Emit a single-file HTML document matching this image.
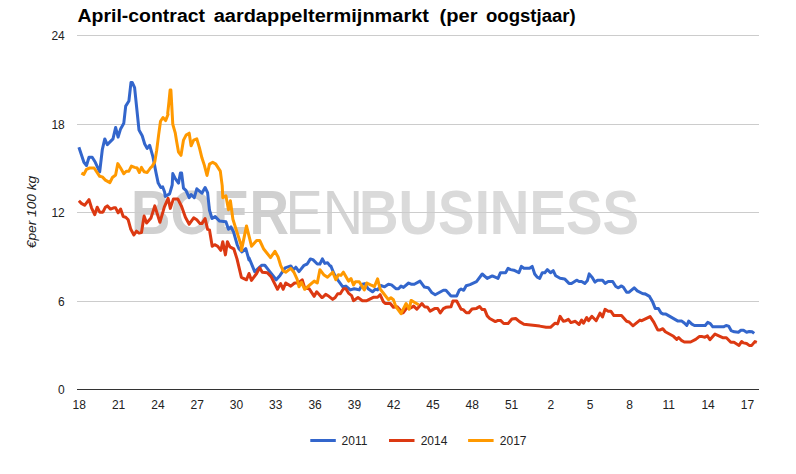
<!DOCTYPE html>
<html><head><meta charset="utf-8"><title>chart</title>
<style>
html,body{margin:0;padding:0;background:#fff;}
body{width:796px;height:474px;overflow:hidden;position:relative;font-family:"Liberation Sans",sans-serif;}
svg{position:absolute;left:0;top:0;}
svg text{font-family:"Liberation Sans",sans-serif;}
</style></head><body>
<svg width="796" height="474" viewBox="0 0 796 474">
<rect width="796" height="474" fill="#fff"/>
<g id="wm" font-size="63.5">
<text x="131" y="233.8" font-weight="bold" fill="#d0d0d0" textLength="158" lengthAdjust="spacingAndGlyphs">BOER</text>
<text x="285.5" y="233.8" fill="#d4d4d4" textLength="77.5" lengthAdjust="spacingAndGlyphs">EN</text>
<text x="359" y="233.8" font-weight="bold" fill="#dadada" textLength="280" lengthAdjust="spacingAndGlyphs">BUSINESS</text>
</g>
<g id="grid"><rect x="77" y="35" width="682" height="1" fill="#ccc"/><rect x="77" y="124" width="682" height="1" fill="#ccc"/><rect x="77" y="212" width="682" height="1" fill="#ccc"/><rect x="77" y="301" width="682" height="1" fill="#ccc"/><rect x="77" y="389" width="682" height="1" fill="#333"/></g>
<g id="title" font-weight="bold" font-size="18" fill="#000">
<text x="77.5" y="21.8" textLength="127.5" lengthAdjust="spacingAndGlyphs">April-contract</text>
<text x="213.7" y="21.8" textLength="215.3" lengthAdjust="spacingAndGlyphs">aardappeltermijnmarkt</text>
<text x="439.6" y="21.8" textLength="38" lengthAdjust="spacingAndGlyphs">(per</text>
<text x="486" y="21.8" textLength="89.7" lengthAdjust="spacingAndGlyphs">oogstjaar)</text>
</g>
<g id="xl" font-size="12" fill="#222"><text x="79.3" y="409.2" text-anchor="middle">18</text><text x="118.6" y="409.2" text-anchor="middle">21</text><text x="157.9" y="409.2" text-anchor="middle">24</text><text x="197.2" y="409.2" text-anchor="middle">27</text><text x="236.5" y="409.2" text-anchor="middle">30</text><text x="275.8" y="409.2" text-anchor="middle">33</text><text x="315.1" y="409.2" text-anchor="middle">36</text><text x="354.4" y="409.2" text-anchor="middle">39</text><text x="393.7" y="409.2" text-anchor="middle">42</text><text x="433.0" y="409.2" text-anchor="middle">45</text><text x="472.3" y="409.2" text-anchor="middle">48</text><text x="511.6" y="409.2" text-anchor="middle">51</text><text x="550.9" y="409.2" text-anchor="middle">2</text><text x="590.2" y="409.2" text-anchor="middle">5</text><text x="629.5" y="409.2" text-anchor="middle">8</text><text x="668.8" y="409.2" text-anchor="middle">11</text><text x="708.1" y="409.2" text-anchor="middle">14</text><text x="747.4" y="409.2" text-anchor="middle">17</text></g>
<g id="yl" font-size="12" fill="#222"><text x="64.8" y="40.2" text-anchor="end">24</text><text x="64.8" y="129.2" text-anchor="end">18</text><text x="64.8" y="217.2" text-anchor="end">12</text><text x="64.8" y="306.2" text-anchor="end">6</text><text x="64.8" y="394.2" text-anchor="end">0</text></g>
<text transform="translate(36.4,212) rotate(-90)" text-anchor="middle" font-size="12" font-style="italic" fill="#222" textLength="72.5" lengthAdjust="spacingAndGlyphs">€per 100 kg</text>
<g fill="none" stroke-width="3" stroke-linejoin="round" stroke-linecap="butt">
<path stroke="#3366cc" d="M78.9,147.2 L83.9,162.3 L86.5,165.5 L89,157.3 L92.2,157.3 L95.3,162.3 L99.7,171.8 L102.3,149.7 L104.8,138.9 L107.3,144.6 L113,138.9 L115.6,127.5 L118.1,137.1 L120.6,128.9 L123.8,123.2 L125.7,106.1 L128.9,101 L131,82.4 L132.2,82.4 L134.6,87.7 L139,130 L139.4,130.7 L142.2,135.8 L144.7,144 L147.2,148.4 L149.7,145.3 L152.9,156.6 L156.1,173.1 L158.2,183.1 L160.8,187.5 L162.7,186.9 L164.6,192 L165.2,196.4 L169.6,193.9 L172.2,185 L172.8,173.6 L175.3,178.7 L178.5,183.1 L180.4,173 L181.6,173 L183.5,188.2 L186.1,190.7 L186.7,192 L189.2,197.7 L191.1,194.5 L194.3,197.7 L196.8,188.8 L201.9,193.2 L205.1,187.5 L207.6,192.6 L209.5,210.3 L212,218.5 L215.2,216.6 L219.6,221.1 L225.9,221.7 L228.5,229.3 L231,226.8 L233.5,231.8 L237.3,245 L238.9,248.7 L242,251.9 L245.8,248.7 L249,260 L249,257.7 L254.7,271.6 L261.6,265.3 L264.8,265.3 L269.2,270.9 L276.2,279.8 L280,275.4 L285.1,267.8 L290.8,265.9 L293.3,269.7 L295.8,267.2 L299,271.6 L304.1,265.3 L307.2,264 L310.4,258.9 L312.9,259.6 L317.3,264 L319.9,264 L322.4,258.9 L324.9,263.4 L327.5,262.7 L330,265.9 L330.8,265.9 L333.9,273.5 L337.7,279.8 L342.8,286.8 L345.9,286.1 L350.4,289.9 L354.2,288.7 L356.7,289.3 L359.2,289.9 L362.4,284.2 L364.9,283.6 L368.1,288.7 L372.5,291.8 L375.1,289.3 L377.6,289.9 L380.8,285.5 L384.6,286.8 L388.4,284.2 L391.5,284.9 L395.9,288.7 L398.5,288.7 L401,286.1 L403.5,287.4 L408.6,283 L411.1,284.2 L414.3,284.2 L420,281.1 L424.4,287.1 L428.2,287.7 L432,292.8 L435.2,294.7 L443.4,290.3 L445.9,290.3 L451,295.9 L456.7,295.9 L459.2,290.3 L461.1,289 L463.7,290.3 L466.2,285.8 L470,284.6 L476.5,281.6 L482.2,274 L487.2,278.4 L492.3,275.9 L498,278.4 L500.5,272.7 L505.6,272.7 L508.1,268.3 L510.6,269.6 L513.8,270.2 L518.9,272.7 L521.4,266.4 L523.9,268.3 L529.6,268.3 L532.2,266.4 L534.7,274 L537.2,277.2 L539.7,278.4 L542.3,272.7 L544.8,272.7 L547.3,269.6 L550.5,272.7 L553.2,270.7 L555.7,275.8 L560.1,278.3 L564.6,278.9 L569,283.4 L571.5,283.4 L576.6,280.2 L579.1,281.5 L581.6,281.5 L584.8,283.4 L587.3,280.8 L589.2,273.9 L592.4,277.7 L594.9,282.1 L597.5,280.2 L602.5,280.2 L605.1,283.4 L608.2,281.5 L612.7,281.5 L615.8,286.5 L618.4,287.8 L621.5,285.9 L623.4,287.2 L626.6,292.2 L629.1,292.2 L634.2,287.8 L637.3,290.9 L642.4,293.5 L644.9,294.1 L645.1,293.9 L649.5,296.4 L652.7,302.1 L655.2,308.4 L658.4,308.4 L660.9,312.8 L663.4,314.1 L665.9,314.1 L678,321.1 L681.8,321.1 L684.3,323 L686.8,325.5 L688.7,321.1 L691.9,324.2 L694.4,325.5 L705.2,325.5 L707.7,322.3 L710.3,323.6 L712.8,326.8 L723.5,326.8 L726.1,325.5 L728.6,326.1 L731.1,330.6 L734.3,331.8 L738.4,332.2 L740.9,330.3 L743.5,330.3 L746.6,332.2 L749.2,331.5 L752.3,331.8 L754.2,333.4"/>
<path stroke="#dc3912" d="M78.9,200.8 L81.4,203.4 L84.6,205.3 L89,199.6 L91.5,207.8 L94.7,214.7 L97.2,207.2 L99.7,212.2 L102.9,212.2 L105.4,207.2 L107.3,205.9 L110.5,209.1 L113.7,207.8 L115.6,207.8 L118.1,212.8 L120.6,209.1 L123.2,216.6 L125.7,217.3 L128.2,219.8 L130.8,229.3 L133.9,235 L136.5,231.2 L139,233.1 L141.5,232.5 L144.1,216 L146.6,223 L151,217.9 L154.8,205.9 L159.9,222.3 L164.3,207.2 L168.1,198.3 L170.3,208.4 L173.4,198.9 L177.8,198.9 L181.6,206.5 L185.4,217.3 L189.2,224.2 L193.7,217.9 L196.8,219.8 L200,223.6 L201.9,223.6 L205.1,218.5 L207.6,229.3 L209.5,229.9 L212.2,246.3 L214.7,244.7 L217.8,246.3 L220.8,250.3 L222.8,241.7 L225.4,254.9 L227.4,241.7 L229.9,246.8 L233.8,248.8 L237,258.9 L241.4,277.3 L246.5,279.8 L249,273.5 L251.5,280.4 L256.6,273.5 L259.7,267.8 L262.3,272.2 L267.3,272.8 L271.1,276.6 L277.5,289.3 L280.6,283.6 L283.2,289.3 L285.7,283 L290.8,286.1 L294.6,283 L298.4,283 L302.2,279.8 L304.7,288 L309.1,288.7 L314.2,296.3 L316.7,291.8 L321.8,297.5 L322.5,297.5 L325.7,294.4 L328.9,296.3 L332.7,299.4 L335.2,297.5 L337.7,293.7 L340.3,293.7 L343.4,288.7 L345.9,288.7 L348.5,293.1 L351.6,295.6 L353.5,300.7 L358,297.5 L362.4,300.7 L366.8,300.7 L373.8,297.2 L377.6,297.2 L380.1,294.7 L383.3,301.6 L385.2,303.5 L390.3,303.5 L393.4,307.3 L397.2,306.7 L402.9,313 L406.7,308 L410.5,308 L413.7,306.1 L416.8,309.2 L421.9,303.5 L424.4,306.7 L427.6,307.3 L430.1,311.1 L434.6,308.6 L437.7,308.6 L440.3,313 L443.4,308.6 L445.9,307.3 L451,306.7 L452.9,301 L456.7,301 L461.1,309.2 L463.2,309.6 L466.3,312.8 L468.9,312.8 L472,309 L476.5,308.4 L479.6,306.5 L482.2,309.6 L484.7,309.6 L487.2,315.9 L489.7,318.5 L495.4,321.6 L498,320.4 L500.5,320.4 L503.7,323.5 L508.1,323.5 L511.9,319.1 L515.7,318.5 L519.5,321.6 L523.9,324.2 L539.7,326.1 L546.1,327.3 L550.5,327.3 L555.1,323.2 L557.6,323.9 L560.1,316.3 L563.3,321.3 L565.8,320.7 L568.4,319.4 L570.9,322.6 L575.3,321.3 L579.1,324.5 L581.6,320.1 L583.5,323.2 L586.7,317.5 L588.6,320.7 L591.8,316.3 L596.2,320.7 L600,313.1 L602.5,316.9 L605.1,309.3 L608.2,311.2 L610.8,311.2 L613.9,315.6 L621.5,315.6 L626.6,321.3 L629.1,322 L632.9,325.8 L639.9,320.1 L641.8,320.7 L650.1,316.6 L653.9,322.3 L657.7,329.9 L660.3,329.9 L662.8,328.7 L665.3,331.8 L673.5,336.3 L676.7,339.4 L678.6,337.5 L681.8,340.7 L684.3,342 L690.6,342 L695.7,339.4 L699.2,336.6 L702.3,336.6 L704.9,337.2 L707.4,335.9 L709.9,339.7 L715,334.1 L723.2,337.8 L726.4,337.8 L730.8,342.3 L734,342.3 L739,345.4 L741.6,341.6 L743.5,342.9 L746.6,343.5 L749.2,345.4 L751.7,345.4 L754.9,341.6 L756.8,342.3"/>
<path stroke="#ff9900" d="M81.4,173.1 L83.9,174.4 L86.5,169.3 L89.6,168 L94.1,168 L99.7,176.3 L102.3,176.9 L105.4,180.1 L109.9,182.6 L112.4,177.5 L115.6,175 L117.8,163.6 L120.6,168 L123.8,173.7 L126.3,171.2 L128.9,171.2 L131.4,166.1 L134.6,167.4 L137.1,168 L139.4,172.5 L141.5,167.4 L144.1,171.8 L147.2,172.5 L150.4,168 L152.3,166.1 L154.8,161.7 L156.7,150.3 L158.6,135.1 L160.5,121.3 L163,117.5 L165.6,120.6 L168.1,114.3 L167.7,113.5 L169,101.5 L170.1,90.1 L170.9,90.1 L172.8,124.3 L175.3,133.2 L176.6,141.3 L178.5,152.1 L181,155.3 L183.5,140.1 L186.1,135.1 L189.2,133.2 L191.1,145.8 L193.7,140.1 L196.8,138.8 L199.4,147.7 L201.9,157.8 L204.4,165.4 L207,175.5 L209.5,164.1 L212.7,162.2 L215.8,164.1 L220.3,171.1 L222.2,185.6 L222.8,197.7 L225.9,195.8 L228.5,209.7 L230.4,200.8 L232.9,219.2 L237.3,233.1 L241.1,245 L241.4,250.6 L246.5,225.9 L251.5,246.2 L256.6,240.5 L259.7,240.5 L263.5,248.7 L270.5,257.6 L274.9,251.3 L278.1,257 L280.6,265.3 L283.2,270.9 L285.7,272.2 L290.8,268.4 L293.9,272.2 L297.1,279.2 L299,286.8 L301.5,282.3 L304.7,289.3 L309.1,285.5 L314.2,281.1 L317.3,283 L319.9,269.7 L323.7,274.7 L327.5,277.3 L332.7,272.2 L335.8,279.8 L338.4,274.7 L340.9,275.4 L343.4,272.2 L348.5,281.1 L351,278.5 L353.5,284.9 L355.4,281.7 L359.2,281.7 L364.3,289.9 L366.8,283 L370.6,284.9 L374.4,286.5 L377.6,278.9 L380.1,289 L384.6,294.7 L388.4,299.7 L390.9,297.8 L393.4,299.7 L395.9,306.7 L401,313.7 L406.1,303.5 L409.2,309.2 L411.1,300.4 L414.3,302.3 L418.7,304.8"/>
</g>
<g id="legend" font-size="12" fill="#222">
<rect x="310.3" y="439" width="25.5" height="3" fill="#3366cc"/><text x="341.6" y="445">2011</text>
<rect x="389" y="439" width="25.5" height="3" fill="#dc3912"/><text x="420.7" y="445">2014</text>
<rect x="468.1" y="439" width="25.5" height="3" fill="#ff9900"/><text x="499.8" y="445">2017</text>
</g>
</svg>
</body></html>
